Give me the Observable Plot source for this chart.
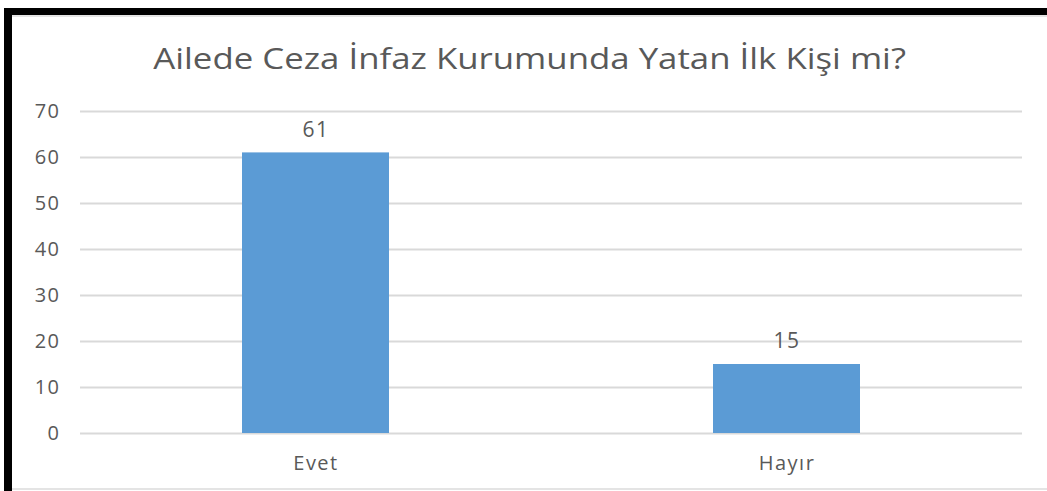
<!DOCTYPE html>
<html><head><meta charset="utf-8">
<script src="https://cdn.jsdelivr.net/npm/d3@7"></script>
<script src="https://cdn.jsdelivr.net/npm/@observablehq/plot@0.6"></script>
<style>
html,body{margin:0;padding:0;background:#fff;}
#wrap{position:relative;width:1047px;height:491px;overflow:hidden;font-family:"Open Sans",sans-serif;background:#fff;}
#bt{position:absolute;left:4px;top:8px;width:1043px;height:7px;background:#000;}
#bl{position:absolute;left:4px;top:8px;width:8px;height:483px;background:#000;}
#inner{position:absolute;left:12px;top:15px;right:0;bottom:1px;border-top:2px solid #e4e4e4;border-bottom:2px solid #e4e4e4;}
#title{position:absolute;left:12px;right:0;top:38px;text-align:center;font-size:29px;color:#595959;line-height:40px;white-space:nowrap;}
#title span{display:inline-block;transform:scaleX(1.2);transform-origin:center;}
#chart{position:absolute;left:0;top:85px;}
#chart svg text{letter-spacing:1.5px;}
</style>
</head><body>
<div id="wrap">
  <div id="inner"></div>
  <div id="bt"></div>
  <div id="bl"></div>
  <div id="title"><span>Ailede Ceza İnfaz Kurumunda Yatan İlk Kişi mi?</span></div>
  <div id="chart"></div>
</div>
<script>
const categories = ["Evet", "Hayır"];
const values = [61, 15];
const yTicks = [0, 10, 20, 30, 40, 50, 60, 70];

const data = categories.map((c, i) => ({cat: c, val: values[i]}));

const chart = Plot.plot({
  width: 1047,
  height: 406,
  marginLeft: 80,
  marginRight: 25,
  marginTop: 26,
  marginBottom: 58,
  style: {fontFamily: "'Open Sans', sans-serif", fontSize: "20px", color: "#595959", background: "transparent"},
  x: {domain: categories, paddingInner: 0.688, paddingOuter: 0.344, label: null},
  y: {domain: [0, 70], label: null},
  marks: [
    Plot.ruleY(yTicks, {stroke: "#d9d9d9", strokeWidth: 2}),
    Plot.barY(data, {x: "cat", y: "val", fill: "#5b9bd5"}),
    Plot.text(data, {x: "cat", y: "val", text: d => String(d.val), dy: -23, fontSize: 21, fill: "#595959"}),
    Plot.axisX({tickSize: 0, tickPadding: 22, fill: "#595959", label: null}),
    Plot.axisY(yTicks, {tickSize: 0, tickPadding: 20, fill: "#595959", label: null})
  ]
});
document.getElementById("chart").appendChild(chart);
</script>
</body></html>
